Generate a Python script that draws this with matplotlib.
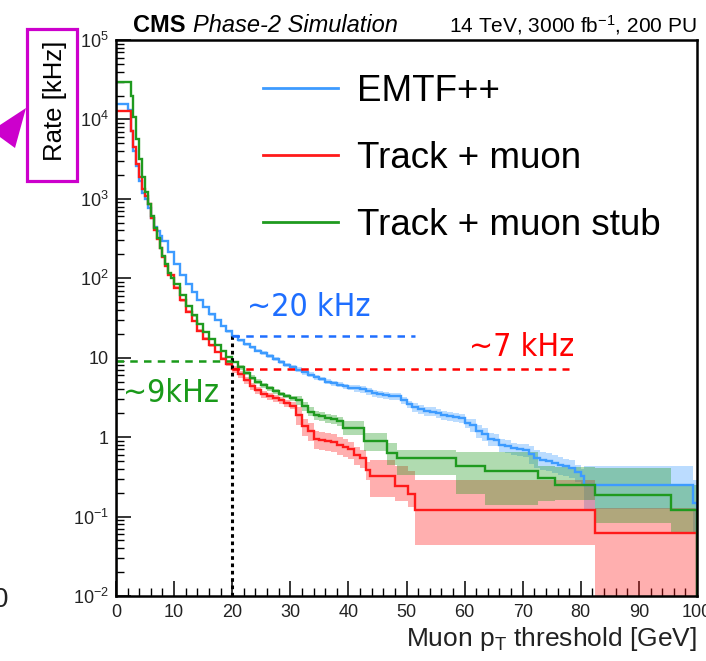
import numpy as np
import matplotlib
matplotlib.use("Agg")
import matplotlib.pyplot as plt
from matplotlib import font_manager
from matplotlib.font_manager import FontProperties
from matplotlib.patches import Rectangle, Polygon
from matplotlib.ticker import FixedLocator, FixedFormatter, MultipleLocator, NullFormatter

# ---------------- data ----------------
blue_edges = [0, 2, 2.5, 3, 3.5, 4, 4.5, 5, 5.5, 6, 6.5, 7, 7.5, 8,
              9, 10, 11, 12, 13, 14, 15, 16, 17, 18, 19, 20,
              21, 22, 23, 24, 25, 26, 27, 28, 29, 30,
              31, 32, 33, 34, 35, 36, 37, 38, 39, 40,
              41, 42, 43, 44, 45, 46, 47, 48, 49, 50,
              51, 52, 53, 54, 55, 56, 57, 58, 59, 60,
              61, 62, 63, 64, 65, 66, 67, 68, 69, 70,
              71, 72, 73, 74, 75, 76, 77, 78, 79, 80,
              80.5, 99.3, 100]
blue_rate = [15500, 13000, 7200, 4000, 2600, 1660, 1200, 1000, 770, 575, 445, 390, 340, 295,
             213, 153, 110, 85, 68, 54, 43, 35, 29.5, 25, 21.4, 18.8,
             16.5, 14.8, 13.5, 12.3, 11.5, 10.5, 9.6, 8.8, 8.1, 7.6,
             7.1, 6.6, 6.1, 5.7, 5.4, 5.0, 4.8, 4.6, 4.4, 4.2,
             4.1, 4.0, 3.8, 3.6, 3.45, 3.4, 3.3, 3.25, 2.9, 2.6,
             2.4, 2.25, 2.15, 2.1, 2.0, 1.9, 1.83, 1.8, 1.75, 1.5,
             1.42, 1.2, 1.1, 0.95, 0.93, 0.8, 0.77, 0.72, 0.70, 0.69,
             0.62, 0.55, 0.52, 0.50, 0.47, 0.45, 0.43, 0.41, 0.36, 0.32,
             0.25, 0.15]
blue_rel_up = ([0.02] * 14 + [0.03] * 12 + [0.05] * 10 + [0.07] * 10 + [0.10] * 10
               + [0.13] * 10 + [0.18] * 10 + [0.25] * 10 + [0.72, 0.9])
blue_rel_dn = ([0.02] * 14 + [0.03] * 12 + [0.05] * 10 + [0.07] * 10 + [0.10] * 10
               + [0.13] * 10 + [0.18] * 10 + [0.25] * 10 + [0.5, 0.6])

red_edges = [0, 2.5, 3, 3.5, 4, 4.5, 5, 5.5, 6, 6.5, 7, 7.5, 8, 8.5, 9,
             10, 11, 12, 13, 14, 15, 16, 17, 18, 19, 20,
             21, 22, 23, 24, 25, 26, 27, 28, 29, 30,
             31, 32, 33, 34, 35, 36, 37, 38, 39, 40, 41, 42, 43,
             43.7, 48, 50.3, 51.5, 82.5, 100]
red_rate = [12800, 7200, 4450, 2750, 1860, 1350, 1100, 850, 575, 410, 316, 243, 186, 144, 111,
            76, 53, 38, 29, 22, 17.3, 14.3, 11.8, 9.7, 8.3, 7.2,
            6.2, 5.2, 4.4, 3.9, 3.5, 3.3, 3.1, 2.9, 2.7, 2.5,
            1.9, 1.37, 1.2, 0.95, 0.92, 0.89, 0.87, 0.8, 0.75, 0.7, 0.6, 0.55, 0.39,
            0.32, 0.24, 0.19, 0.122, 0.063]
red_rel_up = [0.02] * 15 + [0.04] * 10 + [0.10] * 11 + [0.25] * 13 + [0.6, 0.8, 1.0, 1.35, 1.05]
red_rel_dn = [0.02] * 15 + [0.04] * 10 + [0.10] * 11 + [0.25] * 13 + [0.45, 0.35, 0.3, 0.64, 0.999]

green_edges = [0, 2.5, 3, 3.5, 4, 4.5, 5, 5.5, 6, 6.5, 7, 7.5, 8, 8.5, 9, 9.5,
               10, 11, 12, 13, 14, 15, 16, 17, 18, 19, 20,
               21, 22, 23, 24, 25, 26, 27, 28, 29, 30,
               31, 32, 33, 34, 35, 36, 37, 38,
               39, 42.6, 46.6, 48.3, 58.6, 63.5, 72.7, 75.6, 82.5, 95.5, 100]
green_rate = [29800, 20000, 10600, 5600, 3160, 1900, 1236, 855, 610, 435, 325, 243, 191, 150, 117, 100,
              85, 62, 45, 34, 26.8, 21, 17.1, 14.5, 12.2, 10.3, 8.9,
              7.6, 6.5, 5.6, 5.0, 4.5, 4.1, 3.8, 3.5, 3.3, 3.1,
              2.9, 2.45, 2.1, 1.9, 1.85, 1.75, 1.7, 1.6,
              1.32, 0.89, 0.64, 0.55, 0.43, 0.37, 0.31, 0.25, 0.185, 0.122]
green_rel_up = ([0.015] * 16 + [0.03] * 11 + [0.07] * 10 + [0.13] * 8
                + [0.2, 0.25, 0.3, 0.25, 0.5, 0.75, 0.4, 0.7, 1.2, 1.05])
green_rel_dn = ([0.015] * 16 + [0.03] * 11 + [0.07] * 10 + [0.13] * 8
                + [0.2, 0.25, 0.3, 0.4, 0.55, 0.62, 0.5, 0.36, 0.55, 0.5])

series_labels = ["EMTF++", "Track + muon", "Track + muon stub"]
x_ticks = [0, 10, 20, 30, 40, 50, 60, 70, 80, 90, 100]
y_ticks = [1e-2, 1e-1, 1, 10, 1e2, 1e3, 1e4, 1e5]
y_ticklabels = [r"$10^{-2}$", r"$10^{-1}$", "1", "10", r"$10^{2}$", r"$10^{3}$", r"$10^{4}$", r"$10^{5}$"]

threshold = 20
emtf_at_thr = 19.0
trkmu_at_thr = 7.3
trkstub_at_thr = 9.2

# ---------------- style ----------------
plt.rcParams['font.family'] = ['Liberation Sans', 'DejaVu Sans']
plt.rcParams['mathtext.fontset'] = 'custom'
plt.rcParams['mathtext.rm'] = 'Liberation Sans'
plt.rcParams['mathtext.it'] = 'Liberation Sans:italic'
plt.rcParams['mathtext.bf'] = 'Liberation Sans:bold'

# pick a narrow/condensed face for the hand-written annotations, if one exists
ann_family, ann_stretch, ann_size = 'Roboto', 'normal', 23
for fam, stretch, size in [('Liberation Sans Narrow', 'normal', 26.5),
                           ('DejaVu Sans', 'condensed', 23),
                           ('Noto Sans', 'condensed', 25),
                           ('Open Sans', 'condensed', 24)]:
    try:
        path = font_manager.findfont(FontProperties(family=fam, stretch=stretch),
                                     fallback_to_default=False)
    except Exception:
        continue
    if 'Narrow' in path or 'Condensed' in path or 'Cond' in path:
        ann_family, ann_stretch, ann_size = fam, stretch, size
        break

W, H = 706, 661
fig = plt.figure(figsize=(W / 100, H / 100), dpi=100)


def fx(px):
    return px / W


def fy(py):
    return 1 - py / H


ax = fig.add_axes([fx(116), fy(596), fx(697) - fx(116), fy(40) - fy(596)])
ax.set_yscale('log')
ax.set_xlim(0, 100)
ax.set_ylim(1e-2, 1e5)

c_blue, c_red, c_green = '#3d9bff', '#ff1a1a', '#1f9a1f'
series = [
    (blue_edges, blue_rate, blue_rel_up, blue_rel_dn, c_blue),
    (red_edges, red_rate, red_rel_up, red_rel_dn, c_red),
    (green_edges, green_rate, green_rel_up, green_rel_dn, c_green),
]

# uncertainty bands
for edges, rate, up, dn, col in series:
    r = np.array(rate)
    hi = r * (1 + np.array(up))
    lo = np.clip(r * (1 - np.array(dn)), 1e-4, None)
    ax.stairs(hi, edges, baseline=lo, fill=True, color=col, alpha=0.35, lw=0, zorder=2)

# step lines
for (edges, rate, up, dn, col), lab in zip(series, series_labels):
    ax.stairs(rate, edges, baseline=1e-4, color=col, lw=1.7, zorder=4, label=lab)

# annotation lines
ax.plot([threshold, threshold], [1e-2, emtf_at_thr], ls=(0, (1.2, 1.2)), color='black', lw=2.2, zorder=5)
ax.plot([threshold, 51.5], [emtf_at_thr, emtf_at_thr], ls=(0, (3, 2.5)), color='#1e6eff', lw=1.8, zorder=5)
ax.plot([threshold, 78], [trkmu_at_thr, trkmu_at_thr], ls=(0, (3, 2.5)), color='#ff0000', lw=1.8, zorder=5)
ax.plot([0, threshold], [trkstub_at_thr, trkstub_at_thr], ls=(0, (3, 2.5)), color='#1a9a1a', lw=1.8, zorder=5)

ann_kw = dict(family=[ann_family, 'DejaVu Sans'], fontstretch=ann_stretch,
              fontsize=ann_size, ha='center', va='center')
fig.text(fx(309), fy(307), '~20 kHz', color='#1e6eff', **ann_kw)
fig.text(fx(522), fy(347), '~7 kHz', color='#ff0000', **ann_kw)
fig.text(fx(171), fy(393), '~9kHz', color='#1a9a1a', **ann_kw)

# legend
ax.legend(handles=[plt.Line2D([], [], color=c_blue, lw=2),
                   plt.Line2D([], [], color=c_red, lw=2),
                   plt.Line2D([], [], color=c_green, lw=2)],
          labels=series_labels, loc='upper left',
          bbox_to_anchor=(fx(263), fy(74)), bbox_transform=fig.transFigure,
          frameon=False, fontsize=26.5, handlelength=2.05, handletextpad=0.5,
          labelspacing=0.87, borderpad=0, borderaxespad=0)

# axes styling
for side in ['left', 'bottom', 'top', 'right']:
    ax.spines[side].set_linewidth(1.8)
    ax.spines[side].set_zorder(6)
ax.xaxis.set_major_locator(FixedLocator(x_ticks))
ax.xaxis.set_minor_locator(MultipleLocator(2))
ax.yaxis.set_major_locator(FixedLocator(y_ticks))
ax.yaxis.set_major_formatter(FixedFormatter(y_ticklabels))
minor_y = [m * 10.0 ** e for e in range(-2, 5) for m in range(2, 10)]
ax.yaxis.set_minor_locator(FixedLocator(minor_y))
ax.yaxis.set_minor_formatter(NullFormatter())
ax.tick_params(which='major', direction='in', length=11, width=1.1, labelsize=13,
               labelcolor='#222222', top=False, right=False, pad=6)
ax.tick_params(which='minor', direction='in', length=5.5, width=1.0, top=False, right=False)
ax.tick_params(axis='y', which='major', pad=5)

# header texts
fig.text(fx(133), fy(32), 'CMS', fontsize=17, fontweight='bold', va='baseline')
fig.text(fx(193), fy(32), 'Phase-2 Simulation', fontsize=17, fontstyle='italic', va='baseline')
fig.text(fx(697), fy(32), r'14 TeV, 3000 fb$^{-1}$, 200 PU', fontsize=15, ha='right', va='baseline')

# x label
fig.text(fx(697), fy(646), r'Muon p$_{\mathregular{T}}$ threshold [GeV]', fontsize=19,
         ha='right', va='baseline', color='#222222')

# y label in magenta box
fig.text(fx(55), fy(101), 'Rate [kHz]', rotation=90, fontsize=18.5, ha='center', va='center')
fig.patches.append(Rectangle((fx(27), fy(181)), fx(77) - fx(27), fy(29) - fy(181),
                             transform=fig.transFigure, fill=False, edgecolor='#cc00cc', lw=2.3))
fig.patches.append(Polygon([(fx(26), fy(108)), (fx(15), fy(148)), (fx(-8.7), fy(130.7))],
                           closed=True, transform=fig.transFigure, facecolor='#cc00cc',
                           edgecolor='none'))

# partially visible digit at the left border (cut off in the reference too)
fig.text(fx(1), fy(600), '0', fontsize=20, ha='center', va='center', color='#222222')

fig.savefig('out.png', dpi=100)
